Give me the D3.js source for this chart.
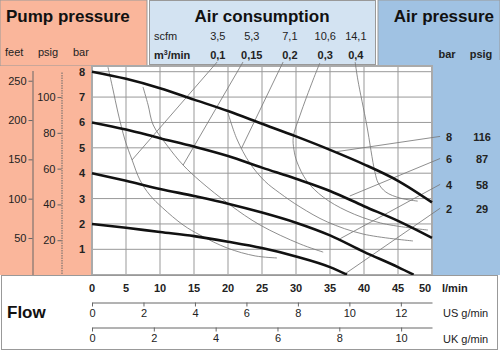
<!DOCTYPE html>
<html lang="en">
<head>
    <meta charset="UTF-8">
    <title>Pump curve</title>
    <script src="https://d3js.org/d3.v7.min.js"></script>
    <style>
        body {
            margin: 0;
            background: #fff;
            font-family: 'Liberation Sans', Arial, sans-serif;
        }
        .title { font-size: 17px; font-weight: bold; fill: #111; }
        .small { font-size: 11px; fill: #222; }
        .bold { font-weight: bold; }
        .grid line { stroke: #999; stroke-width: 1; }
        .thin { fill: none; stroke: #7a7a7a; stroke-width: 0.85; }
        .thick { fill: none; stroke: #111; stroke-width: 2.6; }
        .axis text { font-family: 'Liberation Sans', Arial, sans-serif; font-size: 11px; fill: #222; }
        .axis line, .axis path { stroke: #666; }
        .dotted path { stroke-dasharray: 1.5, 1; }
    </style>
</head>
<body>
<svg width="500" height="353"></svg>
<script>
    // ---- data ----
    const flowTicks = [0, 5, 10, 15, 20, 25, 30, 35, 40, 45, 50];   // l/min
    const usTicks = [0, 2, 4, 6, 8, 10, 12];                       // US g/min
    const ukTicks = [0, 2, 4, 6, 8, 10];                           // UK g/min
    const barTicks = [1, 2, 3, 4, 5, 6, 7, 8];
    const psigTicks = [20, 40, 60, 80, 100];
    const feetTicks = [50, 100, 150, 200, 250];

    const scfmLabels = ["3,5", "5,3", "7,1", "10,6", "14,1"];
    const m3Labels = ["0,1", "0,15", "0,2", "0,3", "0,4"];
    const labelFlow = [18.5, 23.5, 29.1, 34.3, 38.8];   // where the column labels sit, l/min

    const airBar = [8, 6, 4, 2];
    const airPsig = [116, 87, 58, 29];
    const airLabelBar = [5.42, 4.55, 3.53, 2.59];        // height of the right-hand labels, bar

    // performance curves [l/min, bar]
    const curve8 = [[0, 8], [5, 7.72], [10, 7.35], [15, 6.9], [20, 6.45], [25, 5.95], [30, 5.45], [35, 4.92], [40, 4.35], [45, 3.7], [50, 2.85]];
    const curve6 = [[0, 6], [5, 5.72], [10, 5.38], [15, 5.05], [20, 4.68], [25, 4.22], [30, 3.78], [35, 3.3], [40, 2.7], [45, 2.12], [50, 1.45]];
    const curve4 = [[0, 4], [5, 3.7], [10, 3.38], [15, 3.1], [20, 2.8], [25, 2.45], [30, 2.05], [35, 1.55], [40, 0.9], [45, 0.3], [47.3, 0]];
    const curve2 = [[0, 2], [5, 1.85], [10, 1.68], [15, 1.52], [20, 1.3], [25, 1.05], [30, 0.72], [35, 0.3], [37.5, 0]];

    // air consumption lines and arcs [l/min, bar]
    const air01 = [[18.4, 8.38], [5.88, 4.52]];
    const air015 = [[22.2, 8.38], [13.4, 4.32]];
    const air02 = [[28.1, 8.38], [22.0, 4.99]];
    const air03 = [[33.5, 8.34], [32.5, 7.67], [30.6, 6.29], [29.6, 5.43], [29.7, 4.92], [30.15, 4.44], [31.6, 3.69], [34.0, 3.06], [37.5, 2.51], [42.4, 2.04], [49.4, 1.76]];
    const air04 = [[38.7, 8.38], [39.1, 7.67], [40.4, 5.9], [41.6, 4.05], [42.1, 3.61], [43.2, 3.26], [45.3, 3.02], [47.9, 2.9]];
    const arc1 = [[2.35, 8.18], [3.1, 7.28], [3.8, 6.41], [4.85, 5.31], [5.9, 4.52], [7.05, 3.73], [8.5, 3.14], [10.4, 2.63], [13.4, 1.96], [15.9, 1.56], [19.9, 1.05], [24.0, 0.74], [27.2, 0.66]];
    const arc2 = [[7.5, 7.4], [8.25, 6.69], [9.0, 5.9], [11.0, 5.11], [13.4, 4.32], [15.9, 3.69], [20.3, 2.75], [24.7, 1.96], [30.6, 1.21], [34.0, 0.89]];
    const arc3 = [[20.0, 6.37], [21.3, 5.35], [23.2, 4.4], [25.4, 3.69], [27.6, 3.22], [30.6, 2.67], [34.6, 2.08], [39.9, 1.6], [47.2, 1.33]];

    // leaders from the right-hand labels [l/min, bar]
    const leaders = [
        [[51.2, 5.45], [36.0, 4.85]],
        [[51.2, 4.58], [37.9, 3.1]],
        [[51.2, 3.56], [36.5, 1.42]],
        [[51.2, 2.62], [37.3, 0.05]]
    ];

    // ---- layout ----
    const svg = d3.select("svg");
    const plot = { left: 92, right: 432, top: 66, bottom: 275 };

    const x = d3.scaleLinear().domain([0, 50]).range([plot.left, plot.right]);
    const y = d3.scaleLinear().domain([0, 8]).range([274.7, 71.7]);
    const xUS = d3.scaleLinear().domain([0, 50 / 3.785]).range([plot.left, plot.right]);
    const xUK = d3.scaleLinear().domain([0, 50 / 4.546]).range([plot.left, plot.right]);
    const yFeet = d3.scaleLinear().domain([0, 263]).range([277.3, 70.5]);
    const yPsig = d3.scaleLinear().domain([0, 114]).range([276, 72]);

    const line = d3.line().x(d => x(d[0])).y(d => y(d[1])).curve(d3.curveCatmullRom.alpha(0.5));

    // coloured panels
    const salmon = "#fab69b", lightBlue = "#d3e3f2", blue = "#a0c2e3";
    svg.append("rect").attr("x", 0).attr("y", 0).attr("width", 147).attr("height", 66)
        .attr("fill", salmon).attr("stroke", "#999");
    svg.append("rect").attr("x", 0).attr("y", 66).attr("width", plot.left).attr("height", plot.bottom - 66)
        .attr("fill", salmon);
    svg.append("rect").attr("x", 149.5).attr("y", 0.5).attr("width", 226).attr("height", 64)
        .attr("fill", lightBlue).attr("stroke", "#999");
    svg.append("rect").attr("x", 378).attr("y", 0).attr("width", 122).attr("height", 66)
        .attr("fill", blue).attr("stroke", "#999");
    svg.append("rect").attr("x", 433).attr("y", 60).attr("width", 67).attr("height", plot.bottom - 60)
        .attr("fill", blue);

    // plot background + grid
    svg.append("rect").attr("x", plot.left).attr("y", plot.top)
        .attr("width", plot.right - plot.left).attr("height", plot.bottom - plot.top)
        .attr("fill", "#fff");

    const grid = svg.append("g").attr("class", "grid");
    grid.selectAll(".v").data(flowTicks.slice(1, -1)).enter().append("line")
        .attr("x1", d => x(d)).attr("x2", d => x(d))
        .attr("y1", plot.top).attr("y2", plot.bottom);
    grid.selectAll(".h").data(barTicks).enter().append("line")
        .attr("x1", plot.left).attr("x2", plot.right)
        .attr("y1", d => y(d)).attr("y2", d => y(d));

    svg.append("rect").attr("x", plot.left).attr("y", plot.top)
        .attr("width", plot.right - plot.left).attr("height", plot.bottom - plot.top)
        .attr("fill", "none").attr("stroke", "#aaa").attr("stroke-width", 2);

    // thin curves
    const thin = [air01, air015, air02, air03, air04, arc1, arc2, arc3].concat(leaders);
    svg.append("g").selectAll("path").data(thin).enter().append("path")
        .attr("class", "thin").attr("d", line);

    // thick performance curves
    svg.append("g").selectAll("path").data([curve8, curve6, curve4, curve2]).enter().append("path")
        .attr("class", "thick").attr("d", d3.line().x(d => x(d[0])).y(d => y(d[1])).curve(d3.curveMonotoneX));

    // header titles
    svg.append("text").attr("class", "title").attr("x", 6).attr("y", 22).text("Pump pressure");
    svg.append("text").attr("class", "title").attr("x", 262).attr("y", 22).attr("text-anchor", "middle").text("Air consumption");
    svg.append("text").attr("class", "title").attr("x", 494).attr("y", 22).attr("text-anchor", "end").text("Air pressure");

    svg.append("text").attr("class", "small").attr("x", 5).attr("y", 56).text("feet");
    svg.append("text").attr("class", "small").attr("x", 38).attr("y", 56).text("psig");
    svg.append("text").attr("class", "small").attr("x", 73).attr("y", 56).text("bar");
    svg.append("text").attr("class", "small bold").attr("x", 447).attr("y", 58).attr("text-anchor", "middle").text("bar");
    svg.append("text").attr("class", "small bold").attr("x", 481).attr("y", 58).attr("text-anchor", "middle").text("psig");

    // air consumption header
    svg.append("text").attr("class", "small").attr("x", 154).attr("y", 40).text("scfm");
    const m3 = svg.append("text").attr("class", "small bold").attr("x", 154).attr("y", 59).text("m");
    m3.append("tspan").attr("dy", -4).style("font-size", "7px").text("3");
    m3.append("tspan").attr("dy", 4).text("/min");
    svg.append("g").selectAll("text").data(scfmLabels).enter().append("text")
        .attr("class", "small").attr("text-anchor", "middle")
        .attr("x", (d, i) => x(labelFlow[i])).attr("y", 40).text(d => d);
    svg.append("g").selectAll("text").data(m3Labels).enter().append("text")
        .attr("class", "small bold").attr("text-anchor", "middle")
        .attr("x", (d, i) => x(labelFlow[i])).attr("y", 59).text(d => d);

    // right-hand air pressure labels
    svg.append("g").selectAll("text").data(airBar).enter().append("text")
        .attr("class", "small bold").attr("text-anchor", "middle")
        .attr("x", 449).attr("y", (d, i) => y(airLabelBar[i]) + 4).text(d => d);
    svg.append("g").selectAll("text").data(airPsig).enter().append("text")
        .attr("class", "small bold").attr("text-anchor", "middle")
        .attr("x", 482).attr("y", (d, i) => y(airLabelBar[i]) + 4).text(d => d);

    // left pressure axes
    svg.append("g").attr("class", "axis").attr("transform", "translate(32.5,0)")
        .call(d3.axisLeft(yFeet).tickValues(feetTicks).tickSize(4).tickSizeOuter(0).tickPadding(2));
    svg.append("g").attr("class", "axis dotted").attr("transform", "translate(61.5,0)")
        .call(d3.axisLeft(yPsig).tickValues(psigTicks).tickSize(4).tickSizeOuter(0).tickPadding(2));
    svg.append("g").selectAll("text").data(barTicks).enter().append("text")
        .attr("class", "small bold").attr("text-anchor", "middle")
        .attr("x", 82).attr("y", d => y(d) + 4).text(d => d);

    // bottom flow box
    svg.append("rect").attr("x", 1.5).attr("y", plot.bottom + 0.5).attr("width", 496).attr("height", 74)
        .attr("fill", "#fff").attr("stroke", "#999");
    svg.append("text").attr("class", "title").attr("x", 7).attr("y", 318).text("Flow");

    svg.append("g").selectAll("text").data(flowTicks).enter().append("text")
        .attr("class", "small bold").attr("text-anchor", "middle")
        .attr("x", d => x(d) - (d === 50 ? 7 : 0)).attr("y", 292).text(d => d);
    svg.append("text").attr("class", "small bold").attr("x", 442).attr("y", 292).text("l/min");

    svg.append("g").attr("class", "axis").attr("transform", "translate(0,302.5)")
        .call(d3.axisBottom(xUS).tickValues(usTicks).tickSize(4).tickSizeOuter(0).tickPadding(3));
    svg.append("text").attr("class", "small").attr("x", 443).attr("y", 317).text("US g/min");

    svg.append("g").attr("class", "axis").attr("transform", "translate(0,327.5)")
        .call(d3.axisBottom(xUK).tickValues(ukTicks).tickSize(4).tickSizeOuter(0).tickPadding(3));
    svg.append("text").attr("class", "small").attr("x", 443).attr("y", 343).text("UK g/min");
</script>
</body>
</html>
